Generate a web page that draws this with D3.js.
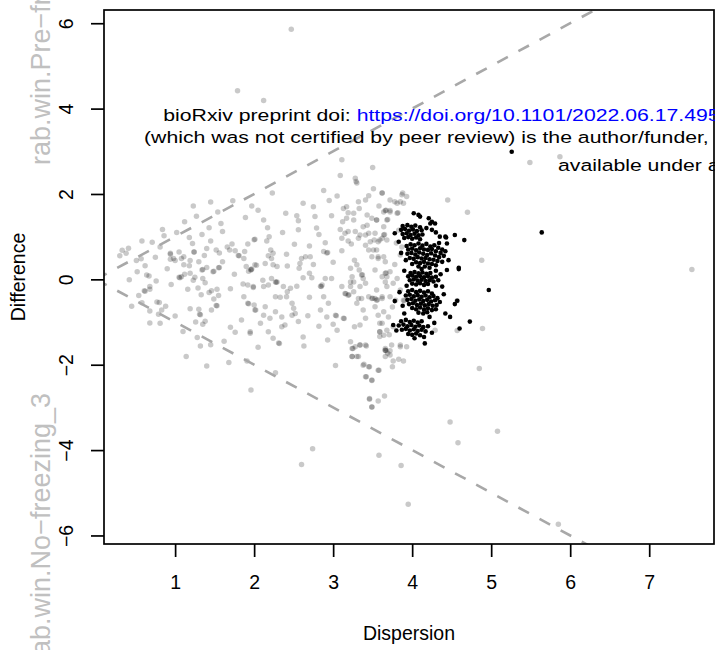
<!DOCTYPE html>
<html lang="en">
<head>
<meta charset="utf-8">
<title>Dispersion vs Difference</title>
<script src="https://d3js.org/d3.v7.min.js"></script>
<style>
  body { margin: 0; background: #fff; }
  text { font-family: "Liberation Sans", Arial, Helvetica, sans-serif; }
</style>
</head>
<body>
<script>
// ticks
var xTicks = [1, 2, 3, 4, 5, 6, 7];
var yTicks = [-6, -4, -2, 0, 2, 4, 6];
var xLabel = "Dispersion";
var yLabel = "Difference";
var sideTop = "rab.win.Pre\u2212freezing_3";
var sideBottom = "rab.win.No\u2212freezing_3";
// reference lines y = slope * x
var slopes = [1, -1];

// gray points (all genes), [dispersion, difference]
var grayPts = [
[1.23,1.72],[1.45,1.81],[1.27,1.48],[1.54,1.58],[1.73,1.84],[1.97,1.72],[1.89,1.45],[1.58,1.31],[1.60,1.12],[1.43,1.21],[1.34,1.05],[0.84,1.17],[0.86,1.02],[0.58,0.90],[0.71,0.87],[0.81,0.76],[0.41,0.73],[0.38,0.61],[0.51,0.44],[0.57,0.48],[0.75,0.52],[1.18,0.98],[1.22,0.84],[1.45,0.90],[1.24,0.64],[1.24,0.64],[1.40,0.72],[1.05,0.64],[0.94,0.59],[1.11,0.53],[1.19,0.44],[1.30,0.41],[1.37,0.56],[1.52,0.69],[1.56,0.62],[1.66,0.76],[1.72,0.83],[1.69,0.69],[1.76,0.67],[1.80,0.56],[1.81,0.55],[1.87,0.49],[1.88,0.65],[1.92,0.83],[2.00,0.93],[0.94,0.47],[1.00,0.44],[1.11,0.34],[1.18,0.32],[1.34,0.22],[1.35,0.23],[1.40,0.28],[1.48,0.18],[1.49,0.19],[1.55,0.27],[1.56,0.28],[1.60,0.41],[1.35,0.02],[1.25,0.05],[1.12,0.12],[1.05,0.05],[1.06,0.04],[1.38,-0.08],[0.42,-0.01],[0.67,0.08],[0.76,-0.04],[0.54,-0.38],[0.61,-0.27],[0.62,-0.28],[0.68,-0.23],[0.45,-0.63],[0.68,-0.74],[0.80,-0.54],[0.88,-0.63],[0.79,-0.82],[0.68,-1.02],[0.81,-1.03],[1.16,-0.23],[1.29,-0.20],[1.33,-0.36],[1.43,-0.31],[1.46,-0.27],[1.53,-0.23],[1.55,-0.38],[1.49,-0.46],[1.52,-0.61],[1.53,-0.62],[1.46,-0.72],[1.19,-0.69],[1.30,-0.70],[1.31,-0.82],[1.32,-0.83],[1.26,-1.00],[1.35,-1.05],[1.38,-0.98],[1.28,-1.36],[1.32,-1.56],[1.45,-1.53],[1.14,-1.81],[1.40,-2.03],[1.68,-1.95],[1.91,-1.91],[1.70,-1.12],[1.76,-1.24],[1.84,-0.95],[1.95,-1.26],[1.87,-0.41],[1.92,-0.56],[1.93,-0.57],[2.02,-0.72],[1.86,-0.11],[1.92,-0.13],[1.99,-0.19],[1.90,0.30],[1.96,0.23],[1.97,0.24],[2.03,0.33],[1.93,0.19],
[0.94,0.61],[0.98,0.49],[1.08,0.49],[0.64,0.10],[0.68,-0.17],[0.77,-0.53],[0.83,-0.72],[1.08,0.06],[1.19,0.14],[1.23,-0.02],[0.30,0.55],[0.33,0.68],
[1.79,4.42],[2.12,4.19],[2.47,5.86],[3.11,2.80],[2.88,2.08],[3.09,2.43],[3.29,2.29],[2.23,2.02],
[1.96,-2.59],[2.60,-4.34],[2.74,-3.97],[2.27,-2.19],[3.03,-2.02],[2.63,-1.56],[2.05,-1.59],[2.93,-1.42],[3.24,-1.81],[3.25,-1.62],
[4.48,-3.34],[5.08,-3.56],[4.58,-3.83],[3.58,-4.12],[3.86,-4.36],[3.95,-5.27],[5.85,-5.74],[4.85,-2.09],[4.89,-1.15],[3.46,-2.81],[3.57,-2.85],[3.65,-2.73],[3.49,-2.99],[3.42,-2.28],[3.49,-2.37],[3.58,-2.13],[3.39,-1.99],[3.46,-2.05],[3.75,-2.05],[3.83,-1.87],[3.89,-1.91],[3.76,-1.91],[3.66,-1.81],[3.32,-1.81],[3.34,-1.54],[3.42,-1.56],[3.66,-1.62],[3.72,-1.67],[3.85,-1.54],[3.93,-1.58],[3.27,-1.11],[3.59,-1.23],[4.57,-1.20],[4.29,-1.19],
[7.54,0.23],[5.49,2.74],[5.87,2.87],[4.45,1.86],[4.70,1.57],[4.88,0.45],[4.57,-0.50],
[3.50,2.62],[3.28,2.37],[3.30,2.26],[3.51,2.12],[3.41,1.86],[3.62,2.02],[3.88,2.02],[3.93,1.94],[3.78,1.82],[3.85,1.82],[3.72,1.86],[3.64,1.58],[3.72,1.58],[3.81,1.55],[3.82,1.56],[3.17,1.70],[3.26,1.55],
[3.45,1.96],[3.32,1.82],[3.33,1.66],[3.13,1.66],[3.19,1.56],[3.17,1.43],[3.12,1.35],[3.26,1.39],[3.43,1.51],[3.49,1.43],[3.55,1.39],[3.68,1.39],[3.69,1.40],[2.75,1.70],[2.77,1.47],[2.98,1.49],[2.54,1.49],[2.56,1.37],[2.56,1.16],[2.79,1.20],[2.12,1.39],[2.17,1.21],[2.19,1.00],[2.16,0.90],[2.36,1.10],[2.01,0.94],[2.51,0.82],[2.70,0.78],[2.90,0.86],[2.88,0.65],[2.92,0.62],[2.93,0.63],[3.11,0.67],[3.19,0.90],[3.23,0.83],[3.41,0.80],[3.47,0.88],[3.52,0.92],[3.57,0.88],[3.62,0.96],[3.64,1.04],[3.65,1.05],[3.68,0.92],[3.45,0.69],[3.49,0.53],[3.55,0.69],[3.57,0.49],[3.64,0.53],[2.21,0.69],[2.24,0.61],[2.22,0.49],[2.18,0.55],[2.41,0.59],[2.42,0.31],[2.60,0.49],[2.65,0.53],[2.71,0.53],[2.58,0.37],[2.57,0.26],[2.62,0.04],[2.70,0.14],[2.73,0.04],[2.01,0.34],[1.96,0.22],[2.14,0.37],[2.11,-0.02],[2.12,-0.17],[2.18,-0.13],[2.24,0.34],[2.29,0.30],[2.22,0.02],[2.27,-0.06],[2.28,-0.07],[2.29,-0.06],[2.37,-0.17],[2.46,-0.21],[2.54,-0.16],[2.27,-0.41],[2.33,-0.42],[2.42,-0.29],[2.41,-0.41],[1.99,-0.17],[2.00,-0.60],[2.01,-0.72],[2.14,-0.64],[2.12,-0.84],[2.08,-1.03],[2.20,-0.91],[2.27,-0.76],[2.35,-0.88],[2.39,-1.07],[2.35,-1.11],[2.48,-0.56],[2.50,-0.68],[2.48,-0.84],[2.52,-0.80],[2.56,-0.99],[2.24,-1.38],[2.31,-1.49],[2.32,-1.50],[2.18,-1.23],[2.62,-1.35],[1.95,-1.23],[2.84,-0.16],[2.85,-0.17],[2.86,-0.13],[2.90,0.02],[2.88,-0.41],[2.94,-0.56],[2.84,-0.72],[2.92,-0.88],[3.03,-0.84],[3.04,-0.85],[3.00,-1.05],[3.05,-1.19],[3.13,-0.91],[3.14,-0.92],[3.11,-0.17],[2.98,0.02],[3.15,-0.33],[3.16,-0.34],[3.19,-0.37],[3.20,-0.36],[3.22,-0.17],[3.26,-0.29],[3.22,0.26],[3.24,0.06],[3.26,-0.06],[3.22,-0.06],[3.27,0.45],[3.30,0.34],[3.33,0.22],[3.36,0.10],[3.37,0.11],[3.38,0.02],[3.41,-0.09],[3.34,-0.17],[3.32,-0.45],[3.30,-0.56],[3.36,-0.45],[3.38,-0.72],[3.41,-0.91],[3.34,-1.07],[3.45,-0.41],[3.49,-0.45],[3.50,-0.44],[3.53,-0.45],[3.55,-0.49],[3.56,-0.48],[3.62,-0.41],[3.66,-0.06],[3.68,0.06],[3.66,0.14],[3.67,0.15],[3.57,-0.84],[3.62,-1.03],[3.59,-1.23],[3.64,-1.31],[3.22,-1.46],[3.24,-1.62],[3.28,-1.58],[3.30,-1.81],[3.24,-1.81],[3.41,-1.54],[3.34,-1.54],[3.66,-1.66],[3.67,-1.67],[3.69,-1.73],[3.38,-2.01],[3.41,-2.28],[3.45,-2.05],[3.49,-2.36],[3.57,-2.13],[3.46,-2.79],[3.49,-2.99],[3.09,1.17],[3.11,0.96],[3.15,1.08],[3.19,1.12],[3.28,1.12],[3.32,0.96],[3.34,1.04],[3.38,1.23],[3.43,1.27],[3.41,1.04],[3.45,1.08],
[3.62,2.02],[3.87,1.98],[3.89,1.78],[3.81,1.78],[3.72,1.61],[3.66,1.61],[3.67,1.62],[3.55,1.39],[3.64,1.23],[3.53,1.08],[3.59,0.92],[3.51,0.69],[3.57,0.53],[3.66,0.41],[3.53,0.22],[3.62,0.06],[3.72,0.18],[3.81,0.02],[3.76,-0.09],[3.68,-0.17],[3.55,-0.25],[3.62,-0.45],[3.72,-0.41],[3.79,-0.49],[3.53,-0.64],[3.64,-0.76],[3.70,-0.88],[3.59,-1.03],[3.68,-1.19],[3.76,-1.11],[3.59,-1.34],[3.74,-1.54],[3.66,-1.66],[3.85,-1.58],[3.72,-1.77],[3.85,0.57],[3.87,0.76],[3.83,1.15],[3.89,-0.49],[3.90,-0.50],[3.85,-0.25],
[2.95,1.85],[2.62,1.78],[2.40,1.55],[2.05,1.62],[1.12,1.35],[1.02,1.10],[0.62,0.32],[0.52,0.18],[0.90,0.25],[0.95,-0.12],[0.58,-0.55],[1.00,-0.86],[1.10,-1.22],[1.62,-1.45],[1.70,-0.22],[1.75,0.12],[2.82,-1.10],[2.70,-0.42],[2.68,-0.85],[2.75,0.35],[2.82,1.05],[3.00,0.40],[3.05,1.95],[3.58,1.72],[3.75,-0.65],[3.78,0.35],[3.80,0.85],[3.71,-1.30]
];

// black points (selected genes), [dispersion, difference]
var blackPts = [
[4.02,1.55],[4.08,1.51],[4.10,1.47],[4.21,1.43],[4.25,1.35],[4.29,1.31],[4.23,1.31],
[3.88,1.25],[3.94,1.27],[3.99,1.23],[4.04,1.26],[4.10,1.22],
[3.86,1.16],[3.91,1.18],[3.96,1.14],[4.01,1.17],[4.06,1.13],[4.12,1.15],[4.25,1.16],
[3.88,1.06],[3.93,1.08],[3.98,1.04],[4.03,1.07],[4.08,1.03],[4.13,1.05],[3.78,1.08],
[3.90,0.97],[3.95,0.99],[4.00,0.95],[4.05,0.98],[4.10,0.94],[3.83,0.88],[4.35,1.00],[4.42,1.00],[4.54,1.04],[4.66,0.92],[4.44,0.84],[4.43,0.98],
[3.93,0.78],[3.98,0.82],[4.03,0.80],[4.08,0.84],[4.13,0.79],[4.18,0.83],[4.23,0.77],[4.28,0.80],[4.33,0.74],[4.38,0.70],
[3.95,0.70],[4.00,0.72],[4.05,0.68],[4.10,0.73],[4.15,0.70],[4.20,0.69],[4.25,0.71],[4.30,0.66],[4.36,0.62],[4.42,0.66],
[3.94,0.60],[3.99,0.62],[4.04,0.58],[4.09,0.63],[4.14,0.60],[4.19,0.57],[4.24,0.61],[4.29,0.56],[4.34,0.52],[4.40,0.55],
[3.97,0.50],[4.02,0.48],[4.07,0.52],[4.12,0.49],[4.17,0.50],[4.22,0.47],[4.27,0.46],[4.32,0.43],[3.92,0.45],
[4.05,0.40],[4.10,0.38],[4.15,0.41],[4.20,0.37],[4.25,0.36],[4.30,0.33],[4.08,0.30],[4.16,0.30],[4.22,0.27],[4.12,0.24],[4.00,0.36],
[3.98,0.15],[4.03,0.17],[4.08,0.14],[4.13,0.16],[4.18,0.13],[4.23,0.15],
[3.95,0.07],[4.00,0.09],[4.05,0.06],[4.10,0.08],[4.15,0.05],[4.20,0.07],[4.25,0.04],[4.30,0.06],
[3.97,-0.02],[4.02,0.00],[4.07,-0.03],[4.12,-0.01],[4.17,-0.04],[4.22,-0.02],[4.27,-0.05],
[4.00,-0.10],[4.05,-0.12],[4.10,-0.09],[4.15,-0.13],[4.20,-0.11],[4.33,-0.02],[4.38,-0.17],[3.93,-0.15],
[3.95,-0.28],[4.00,-0.25],[4.05,-0.30],[4.10,-0.27],[4.15,-0.31],[4.20,-0.28],[4.25,-0.33],
[3.92,-0.38],[3.97,-0.36],[4.02,-0.40],[4.07,-0.37],[4.12,-0.41],[4.17,-0.38],[4.22,-0.42],[4.27,-0.39],[4.32,-0.44],
[3.94,-0.48],[3.99,-0.46],[4.04,-0.50],[4.09,-0.47],[4.14,-0.51],[4.19,-0.48],[4.24,-0.52],[4.29,-0.49],[4.35,-0.53],
[3.96,-0.58],[4.01,-0.56],[4.06,-0.60],[4.11,-0.57],[4.16,-0.61],[4.21,-0.58],[4.26,-0.62],[4.31,-0.60],
[4.00,-0.67],[4.05,-0.70],[4.10,-0.66],[4.15,-0.71],[4.20,-0.68],[4.25,-0.72],
[4.08,-0.78],[4.14,-0.80],[4.19,-0.77],[4.42,-0.80],[4.48,-0.88],[3.78,-0.51],[3.88,-0.62],
[3.86,-0.98],[3.92,-0.95],[3.97,-1.00],[4.02,-0.97],[4.07,-1.01],[4.12,-0.98],
[3.83,-1.08],[3.89,-1.06],[3.94,-1.10],[3.99,-1.07],[4.04,-1.11],[4.09,-1.08],[4.14,-1.12],[4.20,-1.10],
[3.87,-1.18],[3.92,-1.16],[3.97,-1.20],[4.02,-1.17],[4.07,-1.21],[4.12,-1.18],[4.17,-1.22],
[3.95,-1.28],[4.00,-1.30],[4.05,-1.27],[4.10,-1.31],[4.15,-1.35],[4.03,-1.38],[4.16,-1.50],[3.76,-1.07],[3.80,-1.20],
[5.64,1.10],[5.26,2.99],[4.97,-0.25],[4.59,0.27],[4.54,-0.58],[4.73,-0.99],[4.60,-1.15],[4.59,0.24],[4.44,0.22],[4.38,0.41],[4.57,-0.50],[4.30,0.20],[3.90,0.20],
[4.34,0.85],[4.46,0.45],[4.30,1.10],[4.18,1.20],[4.40,-0.35],[4.30,-0.70],[4.22,-0.88],[4.25,-1.25],[4.28,-1.02],[3.90,-0.80],[3.86,0.62],[3.84,-0.30],[4.36,0.12],[4.30,-0.15]
];

var w = 715;
var h = 650;
var plot = {left: 104, top: 10, right: 714, bottom: 544};
var axisFont = 19.5;

var svg = d3.select("body")
  .append("svg")
    .attr("width", w)
    .attr("height", h);

var xScale = d3.scaleLinear()
  .domain([0.1, 7.82])
  .range([plot.left, plot.right]);

var yScale = d3.scaleLinear()
  .domain([-6.20, 6.31])
  .range([plot.bottom, plot.top]);

svg.append("clipPath").attr("id", "plotclip")
  .append("rect")
    .attr("x", plot.left).attr("y", plot.top)
    .attr("width", plot.right - plot.left).attr("height", plot.bottom - plot.top);

var inner = svg.append("g").attr("clip-path", "url(#plotclip)");

// gray points
inner.selectAll("circle.gray")
  .data(grayPts)
  .enter().append("circle")
    .attr("class", "gray")
    .attr("cx", d => xScale(d[0]))
    .attr("cy", d => yScale(d[1]))
    .attr("r", 2.75)
    .attr("fill", "rgba(0,0,0,0.21)");

// black points
inner.selectAll("circle.black")
  .data(blackPts)
  .enter().append("circle")
    .attr("class", "black")
    .attr("cx", d => xScale(d[0]))
    .attr("cy", d => yScale(d[1]))
    .attr("r", 2.3)
    .attr("fill", "#000");

// dashed reference lines
inner.selectAll("line.ref")
  .data(slopes)
  .enter().append("line")
    .attr("class", "ref")
    .attr("x1", xScale(0)).attr("y1", d => yScale(0))
    .attr("x2", xScale(8)).attr("y2", d => yScale(8 * d))
    .attr("stroke", "#a8a8a8")
    .attr("stroke-width", 2.6)
    .attr("stroke-dasharray", "12,12");

// box
svg.append("rect")
  .attr("x", plot.left).attr("y", plot.top)
  .attr("width", plot.right - plot.left).attr("height", plot.bottom - plot.top)
  .attr("fill", "none").attr("stroke", "#000").attr("stroke-width", 1.7);

var fmt = d => d < 0 ? "\u2212" + Math.abs(d) : String(d);

// x axis
var xAxis = d3.axisBottom(xScale).tickValues(xTicks).tickSize(13).tickFormat(fmt);
var gx = svg.append("g")
  .attr("transform", `translate(0, ${plot.bottom})`)
  .call(xAxis);
gx.select(".domain").remove();
gx.selectAll(".tick line").attr("stroke-width", 1.7);
gx.selectAll(".tick text")
  .attr("y", 45).attr("dy", null)
  .attr("font-size", axisFont)
  .attr("font-family", "Liberation Sans, Arial, sans-serif");

// y axis
var yAxis = d3.axisLeft(yScale).tickValues(yTicks).tickSize(13).tickFormat(fmt);
var gy = svg.append("g")
  .attr("transform", `translate(${plot.left}, 0)`)
  .call(yAxis);
gy.select(".domain").remove();
gy.selectAll(".tick line").attr("stroke-width", 1.7);
gy.selectAll(".tick text")
  .attr("x", null).attr("dy", null)
  .attr("transform", "translate(-31,0) rotate(-90)")
  .attr("text-anchor", "middle")
  .attr("font-size", axisFont)
  .attr("font-family", "Liberation Sans, Arial, sans-serif");

// axis titles
svg.append("text")
  .attr("x", (plot.left + plot.right) / 2).attr("y", 640)
  .attr("text-anchor", "middle")
  .attr("font-size", axisFont)
  .text(xLabel);

svg.append("text")
  .attr("transform", `translate(25, ${(plot.top + plot.bottom) / 2}) rotate(-90)`)
  .attr("text-anchor", "middle")
  .attr("font-size", axisFont)
  .text(yLabel);

// faded sample labels on the far left
svg.append("text")
  .attr("transform", "translate(50, 165) rotate(-90)")
  .attr("text-anchor", "start")
  .attr("font-size", 27)
  .attr("fill", "#c0c0c0")
  .text(sideTop);

svg.append("text")
  .attr("transform", "translate(50, 393) rotate(-90)")
  .attr("text-anchor", "end")
  .attr("font-size", 27)
  .attr("fill", "#c0c0c0")
  .text(sideBottom);

// preprint watermark text, stretched horizontally like the source
var wmSize = 17;
var line2 = svg.append("text")
  .attr("font-size", wmSize)
  .text("(which was not certified by peer review) is the author/funder,");
var sx = 565 / line2.node().getComputedTextLength();
line2.attr("transform", `translate(144, 142.5) scale(${sx}, 1)`);

var line1 = svg.append("text")
  .attr("font-size", wmSize)
  .attr("transform", `translate(163.3, 120.5) scale(${sx}, 1)`);
line1.append("tspan").attr("fill", "#000").text("bioRxiv preprint doi: ");
line1.append("tspan").attr("fill", "#0000ff").text("https://doi.org/10.1101/2022.06.17.495");

svg.append("text")
  .attr("font-size", wmSize)
  .attr("transform", `translate(558, 171) scale(${sx}, 1)`)
  .text("available under aCC-BY-NC-ND 4.0 International license.");
</script>
</body>
</html>
